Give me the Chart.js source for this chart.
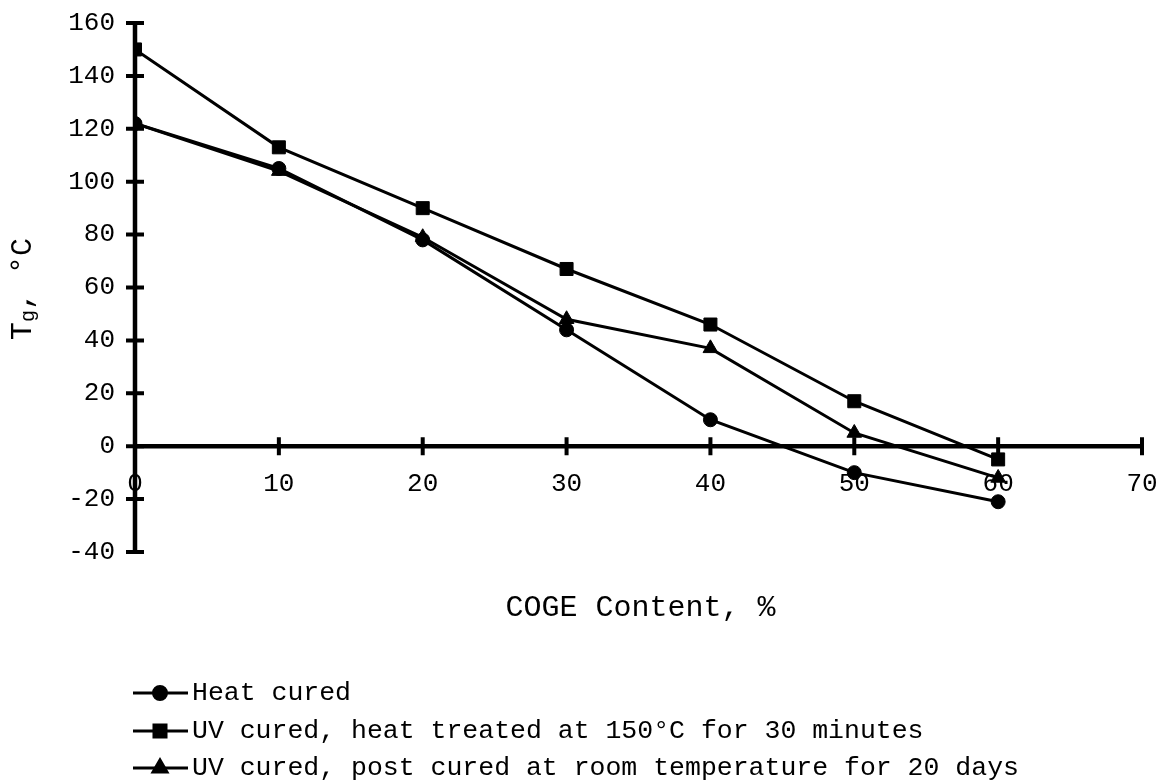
<!DOCTYPE html>
<html>
<head>
<meta charset="utf-8">
<title>Tg vs COGE content</title>
<script src="https://cdn.jsdelivr.net/npm/chart.js@4.4.1/dist/chart.umd.min.js"></script>
<style>
  html, body { margin: 0; padding: 0; background: #fff; }
  #wrap { width: 1159px; height: 782px; }
</style>
</head>
<body>
<div id="wrap"><canvas id="tgChart" width="1159" height="782"></canvas></div>
<script>
// ------------------------
// Data
// ------------------------
const cogeContent = [0, 10, 20, 30, 40, 50, 60];
const heatCured = [122, 105, 78, 44, 10, -10, -21];
const uvHeatTreated = [150, 113, 90, 67, 46, 17, -5];
const uvPostCured = [122, 104, 79, 48, 37, 5, -12];

const seriesNames = [
    'Heat cured',
    'UV cured, heat treated at 150°C for 30 minutes',
    'UV cured, post cured at room temperature for 20 days'
];

const xTicks = [0, 10, 20, 30, 40, 50, 60, 70];
const yTicks = [-40, -20, 0, 20, 40, 60, 80, 100, 120, 140, 160];

const MONO = '"Liberation Mono", "Courier New", monospace';

function toPoints(values) {
    return cogeContent.map((c, i) => ({ x: c, y: values[i] }));
}

// ------------------------
// Axes crossing at zero, titles, legend
// ------------------------
const crossAxes = {
    id: 'crossAxes',
    beforeDatasetsDraw(chart) {
        const { ctx, scales: { x, y } } = chart;
        const x0 = x.getPixelForValue(0);
        const y0 = y.getPixelForValue(0);

        ctx.save();
        ctx.strokeStyle = '#000';
        ctx.lineCap = 'butt';

        // x tick labels (under the axis line)
        ctx.fillStyle = '#000';
        ctx.font = '26px ' + MONO;
        ctx.textAlign = 'center';
        ctx.textBaseline = 'middle';
        xTicks.forEach(v => ctx.fillText(String(v), x.getPixelForValue(v), y0 + 38));

        ctx.lineWidth = 4.5;
        ctx.beginPath();
        ctx.moveTo(x0, y.getPixelForValue(yTicks[yTicks.length - 1]));
        ctx.lineTo(x0, y.getPixelForValue(yTicks[0]));
        ctx.moveTo(x0, y0);
        ctx.lineTo(x.getPixelForValue(xTicks[xTicks.length - 1]), y0);
        ctx.stroke();

        ctx.lineWidth = 4;
        ctx.beginPath();
        yTicks.forEach(v => {
            const py = y.getPixelForValue(v);
            ctx.moveTo(x0 - 9, py);
            ctx.lineTo(x0 + 9, py);
        });
        xTicks.slice(1).forEach(v => {
            const px = x.getPixelForValue(v);
            ctx.moveTo(px, y0 - 9);
            ctx.lineTo(px, y0 + 9);
        });
        ctx.stroke();

        // x title
        ctx.font = '30px ' + MONO;
        ctx.fillText('COGE Content, %', (chart.chartArea.left + chart.chartArea.right) / 2 + 2, 608);

        // y title: T with subscript g
        ctx.save();
        ctx.translate(23, 289);
        ctx.rotate(-Math.PI / 2);
        ctx.textAlign = 'left';
        ctx.textBaseline = 'middle';
        ctx.font = '30px ' + MONO;
        const wT = ctx.measureText('T').width;
        const wRest = ctx.measureText(', °C').width;
        ctx.font = '20px ' + MONO;
        const wG = ctx.measureText('g').width;
        let sx = -(wT + wG + wRest) / 2;
        ctx.font = '30px ' + MONO;
        ctx.fillText('T', sx, 0);
        ctx.font = '20px ' + MONO;
        ctx.fillText('g', sx + wT, 6);
        ctx.font = '30px ' + MONO;
        ctx.fillText(', °C', sx + wT + wG, 0);
        ctx.restore();

        ctx.restore();
    },
    afterDraw(chart) {
        const { ctx } = chart;
        const rows = [693, 731, 768];
        ctx.save();
        chart.data.datasets.forEach((ds, i) => {
            const ly = rows[i];
            ctx.strokeStyle = '#000';
            ctx.lineWidth = 3;
            ctx.beginPath();
            ctx.moveTo(133, ly);
            ctx.lineTo(188, ly);
            ctx.stroke();
            ctx.fillStyle = '#000';
            Chart.helpers.drawPoint(ctx, {
                pointStyle: ds.pointStyle,
                radius: ds.legendRadius,
                rotation: 0,
                borderWidth: 1
            }, 160, ly);
            ctx.fillStyle = '#000';
            ctx.font = '26.5px ' + MONO;
            ctx.textAlign = 'left';
            ctx.textBaseline = 'middle';
            ctx.fillText(seriesNames[i], 192, ly);
        });
        ctx.restore();
    }
};

// ------------------------
// Chart
// ------------------------
function makeSeries(label, values, style, radius, legendRadius) {
    return {
        label: label,
        data: toPoints(values),
        borderColor: '#000',
        backgroundColor: '#000',
        borderWidth: 3,
        pointStyle: style,
        pointRadius: radius,
        pointHoverRadius: radius,
        pointBorderWidth: 1,
        legendRadius: legendRadius,
        tension: 0
    };
}

new Chart(document.getElementById('tgChart'), {
    type: 'line',
    data: {
        datasets: [
            makeSeries(seriesNames[0], heatCured, 'circle', 7, 6.5),
            makeSeries(seriesNames[1], uvHeatTreated, 'rect', 9.2, 8.5),
            makeSeries(seriesNames[2], uvPostCured, 'triangle', 8.5, 8)
        ]
    },
    options: {
        responsive: false,
        animation: false,
        events: [],
        layout: { padding: { left: 0, right: 17, top: 23, bottom: 230 } },
        plugins: {
            legend: { display: false },
            tooltip: { enabled: false }
        },
        scales: {
            x: {
                type: 'linear',
                min: xTicks[0],
                max: xTicks[xTicks.length - 1],
                display: false
            },
            y: {
                type: 'linear',
                min: yTicks[0],
                max: yTicks[yTicks.length - 1],
                afterFit: s => {
                    s.width = 135;
                    s.paddingTop = 0;
                    s.paddingBottom = 0;
                },
                afterBuildTicks: s => { s.ticks = yTicks.map(v => ({ value: v })); },
                grid: { display: false },
                border: { display: false },
                ticks: {
                    color: '#000',
                    padding: 12,
                    font: { family: MONO, size: 26 }
                }
            }
        }
    },
    plugins: [crossAxes]
});
</script>
</body>
</html>
